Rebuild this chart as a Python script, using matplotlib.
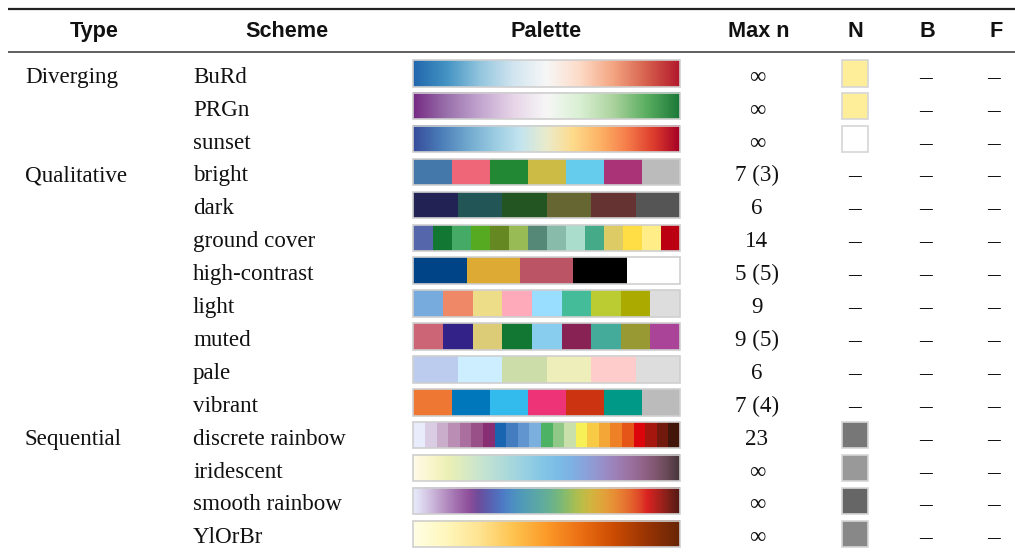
import numpy as np
import matplotlib
matplotlib.use("Agg")
import matplotlib.pyplot as plt
from matplotlib.colors import LinearSegmentedColormap
from matplotlib.patches import Rectangle

# ---------------- data ----------------
headers = ["Type", "Scheme", "Palette", "Max n", "N", "B", "F"]

types = ["Diverging", "", "", "Qualitative", "", "", "", "", "", "", "",
         "Sequential", "", "", ""]

schemes = ["BuRd", "PRGn", "sunset", "bright", "dark", "ground cover",
           "high-contrast", "light", "muted", "pale", "vibrant",
           "discrete rainbow", "iridescent", "smooth rainbow", "YlOrBr"]

gradient = [True, True, True, False, False, False, False, False, False,
            False, False, False, True, True, True]

BuRd = ['#2166AC', '#4393C3', '#92C5DE', '#D1E5F0', '#F7F7F7', '#FDDBC7',
        '#F4A582', '#D6604D', '#B2182B']
PRGn = ['#762A83', '#9970AB', '#C2A5CF', '#E7D4E8', '#F7F7F7', '#D9F0D3',
        '#ACD39E', '#5AAE61', '#1B7837']
sunset = ['#364B9A', '#4A7BB7', '#6EA6CD', '#98CAE1', '#C2E4EF', '#EAECCC',
          '#FEDA8B', '#FDB366', '#F67E4B', '#DD3D2D', '#A50026']
bright = ['#4477AA', '#EE6677', '#228833', '#CCBB44', '#66CCEE', '#AA3377',
          '#BBBBBB']
dark = ['#222255', '#225555', '#225522', '#666633', '#663333', '#555555']
ground_cover = ['#5566AA', '#117733', '#44AA66', '#55AA22', '#668822',
                '#99BB55', '#558877', '#88BBAA', '#AADDCC', '#44AA88',
                '#DDCC66', '#FFDD44', '#FFEE88', '#BB0011']
high_contrast = ['#004488', '#DDAA33', '#BB5566', '#000000', '#FFFFFF']
light = ['#77AADD', '#EE8866', '#EEDD88', '#FFAABB', '#99DDFF', '#44BB99',
         '#BBCC33', '#AAAA00', '#DDDDDD']
muted = ['#CC6677', '#332288', '#DDCC77', '#117733', '#88CCEE', '#882255',
         '#44AA99', '#999933', '#AA4499']
pale = ['#BBCCEE', '#CCEEFF', '#CCDDAA', '#EEEEBB', '#FFCCCC', '#DDDDDD']
vibrant = ['#EE7733', '#0077BB', '#33BBEE', '#EE3377', '#CC3311', '#009988',
           '#BBBBBB']
discrete_rainbow = ['#E8ECFB', '#D9CCE3', '#CAACCB', '#BA8DB4', '#AA6F9E',
                    '#994F88', '#882E72', '#1965B0', '#437DBF', '#6195CF',
                    '#7BAFDE', '#4EB265', '#90C987', '#CAE0AB', '#F7F056',
                    '#F7CB45', '#F4A736', '#EE8026', '#E65518', '#DC050C',
                    '#A5170E', '#72190E', '#42150A']
iridescent = ['#FEFBE9', '#FCF7D5', '#F5F3C1', '#EAF0B5', '#DDECBF',
              '#D0E7CA', '#C2E3D2', '#B5DDD8', '#A8D8DC', '#9BD2E1',
              '#8DCBE4', '#81C4E7', '#7BBCE7', '#7EB2E4', '#88A5DD',
              '#9398D2', '#9B8AC4', '#9D7DB2', '#9A709E', '#906388',
              '#805770', '#684957', '#46353A']
smooth_rainbow = ['#E8ECFB', '#DDD8EF', '#D1C1E1', '#C3A8D1', '#B58FC2',
                  '#A778B4', '#9B62A7', '#8C4E99', '#6F4C9B', '#6059A9',
                  '#5568B8', '#4E79C5', '#4D8AC6', '#4E96BC', '#549EB3',
                  '#59A5A9', '#60AB9E', '#69B190', '#77B77D', '#8CBC68',
                  '#A6BE54', '#BEBC48', '#D1B541', '#DDAA3C', '#E49C39',
                  '#E78C35', '#E67932', '#E4632D', '#DF4828', '#DA2222',
                  '#B8221E', '#95211B', '#721E17', '#521A13']
YlOrBr = ['#FFFFE5', '#FFF7BC', '#FEE391', '#FEC44F', '#FB9A29', '#EC7014',
          '#CC4C02', '#993404', '#662506']

palettes = [BuRd, PRGn, sunset, bright, dark, ground_cover, high_contrast,
            light, muted, pale, vibrant, discrete_rainbow, iridescent,
            smooth_rainbow, YlOrBr]

max_n = ["∞", "∞", "∞", "7 (3)", "6", "14", "5 (5)", "9", "9 (5)", "6",
         "7 (4)", "23", "∞", "∞", "∞"]

N_col = ['#FFEE99', '#FFEE99', '#FFFFFF', None, None, None, None, None,
         None, None, None, '#777777', '#999999', '#666666', '#888888']
B_col = [None] * 15
F_col = [None] * 15

# ---------------- layout ----------------
W, H = 1015, 552
fig = plt.figure(figsize=(W / 100, H / 100), dpi=100)
ax = fig.add_axes([0, 0, 1, 1])
ax.set_xlim(0, W)
ax.set_ylim(H, 0)
ax.axis("off")

serif = ['Liberation Serif', 'DejaVu Serif']
sans = ['Liberation Sans', 'DejaVu Sans']
body_fs = 16.6
head_fs = 15.6

# rules
ax.plot([8, W], [9, 9], color='#222222', lw=1.6, solid_capstyle='butt')
ax.plot([8, W], [52, 52], color='#444444', lw=1.2, solid_capstyle='butt')

# headers
head_x = [94, 287, 546, 759, 855, 927, 996]
for hx, h in zip(head_x, headers):
    ax.text(hx, 37, h, ha='center', va='baseline', fontsize=head_fs,
            fontweight='bold', family=sans, color='#111111')

y0, dy = 73.3, 32.9
bh = 26.5
px0, px1 = 413.5, 680
nx = 855
nbox = 26.5
dash_x = [855, 926, 994]
base_off = 9.5

grad = np.linspace(0, 1, 512).reshape(1, -1)
for i in range(len(schemes)):
    yc = y0 + i * dy
    yb = yc + base_off
    if types[i]:
        ax.text(25, yb, types[i], ha='left', va='baseline',
                fontsize=body_fs, family=serif, color='#111111')
    ax.text(193, yb, schemes[i], ha='left', va='baseline',
            fontsize=body_fs, family=serif, color='#111111')
    ax.text(757, yb, max_n[i], ha='center', va='baseline',
            fontsize=body_fs, family=serif, color='#111111')

    cols = palettes[i]
    if gradient[i]:
        cmap = LinearSegmentedColormap.from_list(schemes[i], cols, N=512)
        ax.imshow(grad, cmap=cmap, aspect='auto', interpolation='bilinear',
                  extent=[px0, px1, yc + bh / 2, yc - bh / 2], zorder=2)
    else:
        n = len(cols)
        w = (px1 - px0) / n
        for k, c in enumerate(cols):
            ax.add_patch(Rectangle((px0 + k * w, yc - bh / 2), w, bh,
                                   facecolor=c, edgecolor='none', zorder=2))
    ax.add_patch(Rectangle((px0, yc - bh / 2), px1 - px0, bh,
                           facecolor='none', edgecolor='#cfcfcf', lw=1.2,
                           zorder=3))
    ax.set_xlim(0, W)
    ax.set_ylim(H, 0)

    for j, val in enumerate([N_col[i], B_col[i], F_col[i]]):
        if val is None:
            ax.text(dash_x[j], yb, "–", ha='center', va='baseline',
                    fontsize=body_fs * 1.1, family=serif, color='#111111')
        else:
            ax.add_patch(Rectangle((nx - nbox / 2, yc - nbox / 2), nbox, nbox,
                                   facecolor=val, edgecolor='#d6d6d6', lw=1.2,
                                   zorder=3))

fig.savefig("out.png", dpi=100)
